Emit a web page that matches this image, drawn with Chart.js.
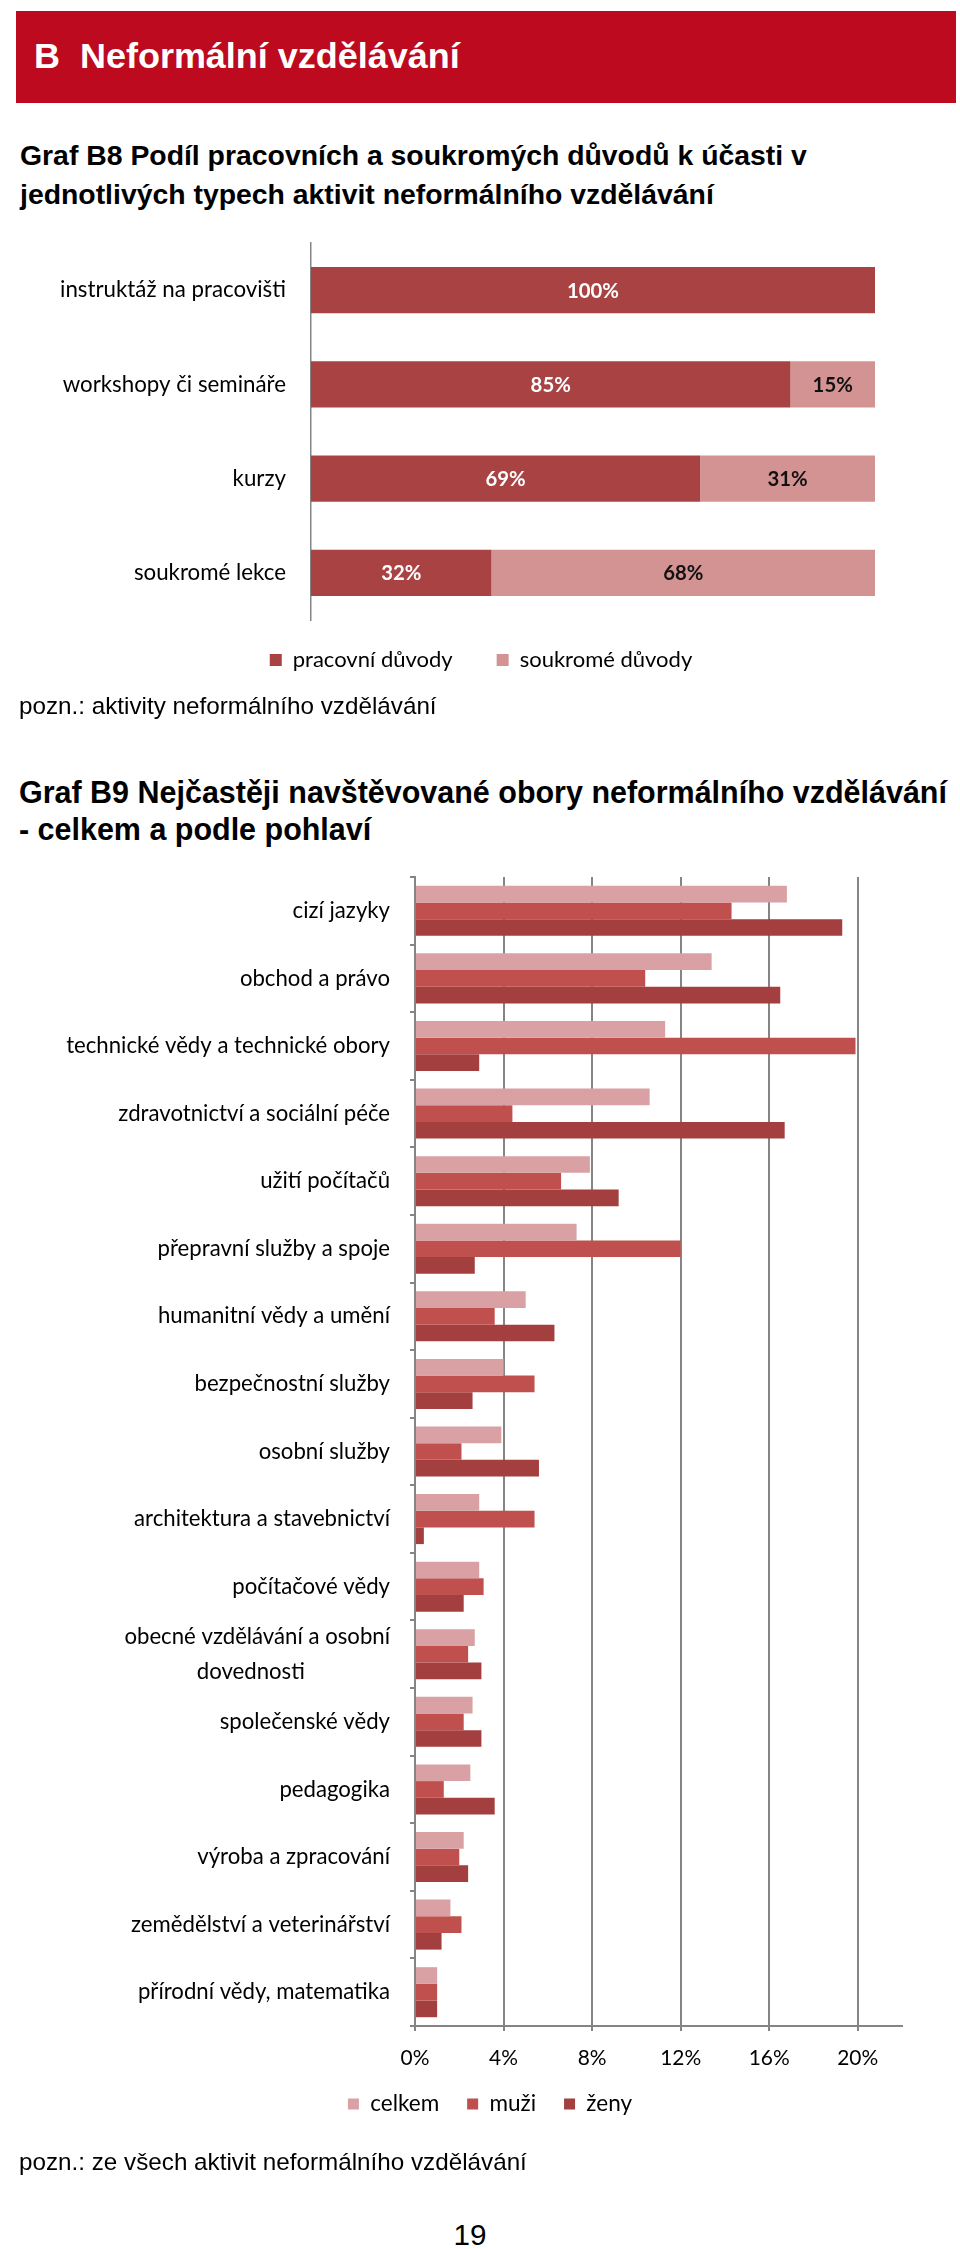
<!DOCTYPE html>
<html><head><meta charset="utf-8">
<script src="https://cdn.jsdelivr.net/npm/chart.js@4.4.1/dist/chart.umd.min.js"></script>
<style>
html,body{margin:0;padding:0;background:#fff;}
body{width:960px;height:2249px;position:relative;overflow:hidden;}
.t{position:absolute;white-space:pre;font-family:'Liberation Sans',Arial,sans-serif;color:#000;}
#hdr{position:absolute;left:16px;top:11px;width:940px;height:92px;background:#BE0A1E;}
canvas{position:absolute;left:0;}
</style></head><body>
<div id="hdr"></div>
<canvas id="c8" width="960" height="480" style="top:225px"></canvas>
<canvas id="c9" width="960" height="1300" style="top:860px"></canvas>
<script>
// ---------- texts ----------
const headerText = 'B  Neformální vzdělávání';
const b8TitleLines = ['Graf B8 Podíl pracovních a soukromých důvodů k účasti v', 'jednotlivých typech aktivit neformálního vzdělávání'];
const b8Note = 'pozn.: aktivity neformálního vzdělávání';
const b9TitleLines = ['Graf B9 Nejčastěji navštěvované obory neformálního vzdělávání', '- celkem a podle pohlaví'];
const b9Note = 'pozn.: ze všech aktivit neformálního vzdělávání';
const pageNumber = '19';

// ---------- data: chart B8 ----------
const b8Categories = ['instruktáž na pracovišti', 'workshopy či semináře', 'kurzy', 'soukromé lekce'];
const b8SeriesNames = ['pracovní důvody', 'soukromé důvody'];
const b8Work = [100, 85, 69, 32];
const b8Private = [0, 15, 31, 68];

// ---------- data: chart B9 ----------
const b9Categories = [
  'cizí jazyky', 'obchod a právo', 'technické vědy a technické obory', 'zdravotnictví a sociální péče',
  'užití počítačů', 'přepravní služby a spoje', 'humanitní vědy a umění', 'bezpečnostní služby',
  'osobní služby', 'architektura a stavebnictví', 'počítačové vědy',
  ['obecné vzdělávání a osobní', 'dovednosti'],
  'společenské vědy', 'pedagogika', 'výroba a zpracování', 'zemědělství a veterinářství',
  'přírodní vědy, matematika'
];
const b9SeriesNames = ['celkem', 'muži', 'ženy'];
const b9Total = [16.8, 13.4, 11.3, 10.6, 7.9, 7.3, 5.0, 4.0, 3.9, 2.9, 2.9, 2.7, 2.6, 2.5, 2.2, 1.6, 1.0];
const b9Men   = [14.3, 10.4, 19.9, 4.4, 6.6, 12.0, 3.6, 5.4, 2.1, 5.4, 3.1, 2.4, 2.2, 1.3, 2.0, 2.1, 1.0];
const b9Women = [19.3, 16.5, 2.9, 16.7, 9.2, 2.7, 6.3, 2.6, 5.6, 0.4, 2.2, 3.0, 3.0, 3.6, 2.4, 1.2, 1.0];
const b9TickValues = [0, 4, 8, 12, 16, 20];

// ---------- helpers ----------
const HF = "'Liberation Sans', Arial, sans-serif";
const CF = "Lato, 'Open Sans', sans-serif";
const mctx = document.createElement('canvas').getContext('2d');
function measure(text, weight, family, size) { mctx.font = weight + ' ' + size + 'px ' + family; return mctx.measureText(text).width; }
function fit(text, weight, family, target) { return 100 * target / measure(text, weight, family, 100); }
function place(text, x, baseline, size, weight, color, centered) {
  const d = document.createElement('div');
  d.className = 't';
  d.textContent = text;
  d.style.fontSize = size + 'px';
  d.style.fontWeight = weight;
  d.style.lineHeight = size + 'px';
  d.style.color = color;
  d.style.top = (baseline - 0.8465 * size) + 'px';
  d.style.left = (centered ? x - measure(text, weight, HF, size) / 2 : x) + 'px';
  document.body.appendChild(d);
}

// ---------- page texts ----------
place(headerText, 34, 68, fit(headerText, 'bold', HF, 426), 'bold', '#fff');
const t8 = fit(b8TitleLines[0], 'bold', HF, 787);
place(b8TitleLines[0], 20, 165, t8, 'bold', '#000');
place(b8TitleLines[1], 20, 204, t8, 'bold', '#000');
const noteSize = fit(b9Note, 'normal', HF, 508);
place(b8Note, 19, 715, noteSize, 'normal', '#000');
const t9 = fit(b9TitleLines[0], 'bold', HF, 928);
place(b9TitleLines[0], 19, 803, t9, 'bold', '#000');
place(b9TitleLines[1], 19, 840, t9, 'bold', '#000');
place(b9Note, 19, 2171, noteSize, 'normal', '#000');
place(pageNumber, 470, 2245, fit(pageNumber, 'normal', HF, 33), 'normal', '#000', true);

// ---------- plugins ----------
const legendPlace = {
  id: 'legendPlace',
  afterLayout(chart, args, opts) {
    const lg = chart.legend;
    if (!lg || opts.y == null) return;
    const lo = lg.options.labels;
    const fs = Chart.helpers.toFont(lo.font).size;
    const itemH = Math.max(fs, lo.boxHeight || fs);
    const dy = opts.y - (lg.top + lo.padding + itemH / 2);
    const dx = opts.x - (lg.left + lg.right) / 2;
    lg.top += dy; lg.bottom += dy; lg.left += dx; lg.right += dx;
  }
};
const barValues = {
  id: 'barValues',
  afterDatasetsDraw(chart, args, opts) {
    const ctx = chart.ctx;
    ctx.save();
    ctx.font = 'bold ' + opts.size + 'px ' + CF;
    ctx.textAlign = 'center';
    ctx.textBaseline = 'middle';
    chart.data.datasets.forEach((ds, di) => {
      chart.getDatasetMeta(di).data.forEach((el, i) => {
        const v = ds.data[i];
        if (!v) return;
        const p = el.getProps(['x', 'y', 'base'], true);
        ctx.fillStyle = opts.colors[di];
        ctx.fillText(v + '%', (p.x + p.base) / 2, p.y + 1);
      });
    });
    ctx.restore();
  }
};

Chart.defaults.font.family = CF;
Chart.defaults.color = '#000';
const AX = '#858585';

// ---------- chart B8 ----------
const C8 = {top: 225, H: 480, areaTop: 243, areaBottom: 620, areaLeft: 311, areaRight: 875, legendX: 481, legendY: 660};
const b8LabelSize = fit(b8Categories[0], 'normal', CF, 226);
const b8ValueSize = fit('100%', 'bold', CF, 52);
const b8LegendSize = fit(b8SeriesNames[0], 'normal', CF, 160);
const legPad8 = 44;
const legH8 = Math.max(b8LegendSize, 12) + legPad8 + 10;
const pb8 = C8.H - (C8.areaBottom - C8.top) - legH8;

new Chart(document.getElementById('c8'), {
  type: 'bar',
  data: {
    labels: b8Categories,
    datasets: [
      {label: b8SeriesNames[0], data: b8Work, backgroundColor: '#A94343', borderWidth: 0},
      {label: b8SeriesNames[1], data: b8Private, backgroundColor: '#D49393', borderWidth: 0}
    ]
  },
  options: {
    indexAxis: 'y', responsive: false, animation: false, devicePixelRatio: 1,
    layout: {padding: {top: C8.areaTop - C8.top, right: 960 - C8.areaRight, left: 0, bottom: pb8}},
    datasets: {bar: {categoryPercentage: 1, barPercentage: 0.49}},
    scales: {
      x: {stacked: true, min: 0, max: 100, display: false},
      y: {
        stacked: true,
        grid: {display: false, drawTicks: false},
        border: {display: true, color: AX, width: 1.5},
        ticks: {padding: 25, color: '#000', font: {size: b8LabelSize}},
        afterFit: s => { s.width = C8.areaLeft; s.paddingTop = 0; s.paddingBottom = 0; }
      }
    },
    plugins: {
      legend: {position: 'bottom', labels: {boxWidth: 12, boxHeight: 12, padding: legPad8, color: '#000', font: {size: b8LegendSize}}},
      tooltip: {enabled: false},
      legendPlace: {x: C8.legendX, y: C8.legendY - C8.top},
      barValues: {size: b8ValueSize, colors: ['#ffffff', '#111111']}
    }
  },
  plugins: [legendPlace, barValues]
});

// ---------- chart B9 ----------
const C9 = {top: 860, H: 1300, areaTop: 877, areaBottom: 2026, areaLeft: 415, areaRight: 902, tickY: 2058, legendX: 490, legendY: 2104};
const b9LabelSize = fit(b9Categories[2], 'normal', CF, 324);
const b9TickSize = fit('20%', 'normal', CF, 41);
const b9LegendSize = fit(b9SeriesNames[0], 'normal', CF, 69);
const tl9 = 5;
const tickPad9 = (C9.tickY - C9.areaBottom) - tl9 - 0.6 * b9TickSize;
const xAxisH9 = tl9 + 2 * tickPad9 + 1.2 * b9TickSize;
const legPad9 = 28;
const legH9 = Math.max(b9LegendSize, 11) + legPad9 + 10;
const pb9 = C9.H - (C9.areaBottom - C9.top) - xAxisH9 - legH9;

// centre the second line of multi-line labels under the first (labels are right aligned);
// trailing no-break spaces push the shorter line left
const NB = '\u00A0';
const spaceW = measure(NB, 'normal', CF, b9LabelSize);
const b9DisplayLabels = b9Categories.map(c => {
  if (!Array.isArray(c)) return c;
  const w0 = measure(c[0], 'normal', CF, b9LabelSize);
  return c.map((line, k) => {
    if (k === 0) return line;
    const w = measure(line, 'normal', CF, b9LabelSize);
    return line + NB.repeat(Math.max(0, Math.round(1.1 * (w0 - w) / 2 / spaceW)));
  });
});

new Chart(document.getElementById('c9'), {
  type: 'bar',
  data: {
    labels: b9DisplayLabels,
    datasets: [
      {label: b9SeriesNames[0], data: b9Total, backgroundColor: '#D9A1A3', borderWidth: 0},
      {label: b9SeriesNames[1], data: b9Men, backgroundColor: '#C0504D', borderWidth: 0},
      {label: b9SeriesNames[2], data: b9Women, backgroundColor: '#A33F3F', borderWidth: 0}
    ]
  },
  options: {
    indexAxis: 'y', responsive: false, animation: false, devicePixelRatio: 1,
    layout: {padding: {top: C9.areaTop - C9.top, right: 960 - C9.areaRight, left: 0, bottom: pb9}},
    datasets: {bar: {categoryPercentage: 0.74, barPercentage: 1}},
    scales: {
      x: {
        min: 0, max: 22,
        afterBuildTicks: s => { s.ticks = s.ticks.filter(t => b9TickValues.includes(t.value)); },
        ticks: {stepSize: 4, padding: tickPad9, color: '#000', font: {size: b9TickSize}, callback: v => v + '%'},
        grid: {color: AX, lineWidth: 2, drawTicks: true, tickLength: tl9},
        border: {display: true, color: AX, width: 2},
        afterFit: s => { s.height = xAxisH9; s.paddingLeft = 0; s.paddingRight = 0; }
      },
      y: {
        grid: {drawOnChartArea: false, drawTicks: true, tickLength: 5, color: AX, lineWidth: 2, offset: true},
        border: {display: true, color: AX, width: 2},
        ticks: {padding: 20, color: '#000', autoSkip: false, font: {size: b9LabelSize, lineHeight: 1.6}},
        afterFit: s => { s.width = C9.areaLeft; s.paddingTop = 0; s.paddingBottom = 0; }
      }
    },
    plugins: {
      legend: {position: 'bottom', labels: {boxWidth: 11, boxHeight: 11, padding: legPad9, color: '#000', font: {size: b9LegendSize}}},
      tooltip: {enabled: false},
      legendPlace: {x: C9.legendX, y: C9.legendY - C9.top}
    }
  },
  plugins: [legendPlace]
});
</script></body></html>
